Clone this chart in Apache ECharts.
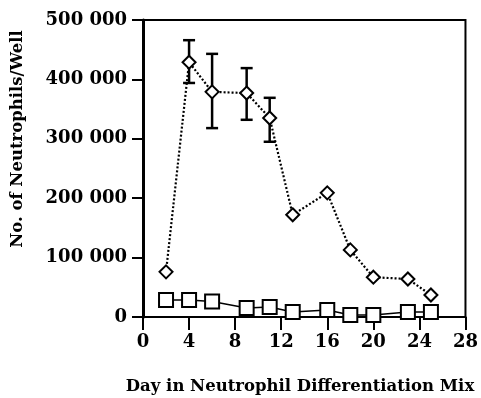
<!DOCTYPE html>
<html>
<head>
<meta charset="utf-8">
<script src="https://cdn.jsdelivr.net/npm/echarts@6/dist/echarts.min.js"></script>
<style>html,body{margin:0;padding:0;background:#fff;}#c{width:481px;height:398px;}</style>
</head>
<body>
<div id="c"></div>
<script>
// Data
var days = [2, 4, 6, 9, 11, 13, 16, 18, 20, 23, 25];
var diamondValues = [76000, 429000, 379000, 377000, 335000, 172000, 209000, 113000, 67000, 64000, 37000];
var squareValues = [28600, 28600, 26000, 15000, 17000, 8400, 11800, 3400, 3400, 8400, 8400];
var errDays = [4, 6, 9, 11];
var errLow = [394000, 318000, 332000, 295000];
var errHigh = [466000, 443000, 419000, 369000];
var xTicks = [0, 4, 8, 12, 16, 20, 24, 28];
var yTicks = [0, 100000, 200000, 300000, 400000, 500000];
var xTitle = 'Day in Neutrophil Differentiation Mix';
var yTitle = 'No. of Neutrophils/Well';

var FONT = 'DejaVu Serif';
var chart = echarts.init(document.getElementById('c'), null, {renderer: 'canvas'});

function fmtY(v) {
  if (v === 0) return '0';
  var s = String(v);
  return s.slice(0, s.length - 3) + ' ' + s.slice(s.length - 3);
}

var diamondData = days.map(function (d, i) { return [d, diamondValues[i]]; });
var squareData = days.map(function (d, i) { return [d, squareValues[i]]; });
var errData = errDays.map(function (d, i) { return [d, errLow[i], errHigh[i]]; });

var option = {
  animation: false,
  backgroundColor: '#fff',
  grid: {left: 143, right: 14, top: 20, bottom: 81, show: true, borderColor: '#000', borderWidth: 2, backgroundColor: 'transparent'},
  xAxis: {
    type: 'value', min: xTicks[0], max: xTicks[xTicks.length - 1], interval: 4,
    axisLine: {show: true, onZero: false, lineStyle: {color: '#000', width: 2}},
    axisTick: {show: true, inside: false, length: 13, lineStyle: {color: '#000', width: 2}},
    axisLabel: {color: '#000', fontFamily: FONT, fontWeight: 'bold', fontSize: 18, margin: 16},
    splitLine: {show: false}
  },
  yAxis: {
    type: 'value', min: yTicks[0], max: yTicks[yTicks.length - 1], interval: 100000,
    axisLine: {show: true, onZero: false, lineStyle: {color: '#000', width: 3}},
    axisTick: {show: true, inside: false, length: 11, lineStyle: {color: '#000', width: 2}},
    axisLabel: {color: '#000', fontFamily: FONT, fontWeight: 'bold', fontSize: 18, margin: 16, formatter: fmtY},
    splitLine: {show: false}
  },
  graphic: [
    {type: 'text', x: 18, y: 139, rotation: Math.PI / 2,
      style: {text: yTitle, fill: '#000', font: 'bold 16.5px "' + FONT + '"', align: 'center', verticalAlign: 'middle'}},
    {type: 'text', x: 300, y: 387,
      style: {text: xTitle, fill: '#000', font: 'bold 16.5px "' + FONT + '"', align: 'center', verticalAlign: 'middle'}}
  ],
  series: [
    {
      type: 'custom', z: 1,
      data: errData,
      renderItem: function (params, api) {
        var x = api.value(0);
        var lo = api.coord([x, api.value(1)]);
        var hi = api.coord([x, api.value(2)]);
        var hw = 6;
        var st = {stroke: '#000', lineWidth: 2.5};
        return {type: 'group', children: [
          {type: 'line', shape: {x1: lo[0], y1: lo[1], x2: hi[0], y2: hi[1]}, style: st},
          {type: 'line', shape: {x1: hi[0] - hw, y1: hi[1], x2: hi[0] + hw, y2: hi[1]}, style: st},
          {type: 'line', shape: {x1: lo[0] - hw, y1: lo[1], x2: lo[0] + hw, y2: lo[1]}, style: st}
        ]};
      }
    },
    {
      type: 'line', z: 3, data: squareData,
      symbol: 'rect', symbolSize: 14,
      lineStyle: {color: '#000', width: 1.5, type: 'solid'},
      itemStyle: {color: '#fff', borderColor: '#000', borderWidth: 2}
    },
    {
      type: 'line', z: 4, data: diamondData,
      symbol: 'diamond', symbolSize: 13,
      lineStyle: {color: '#000', width: 2.2, type: [2, 2]},
      itemStyle: {color: '#fff', borderColor: '#000', borderWidth: 2}
    }
  ]
};
chart.setOption(option);
</script>
</body>
</html>
